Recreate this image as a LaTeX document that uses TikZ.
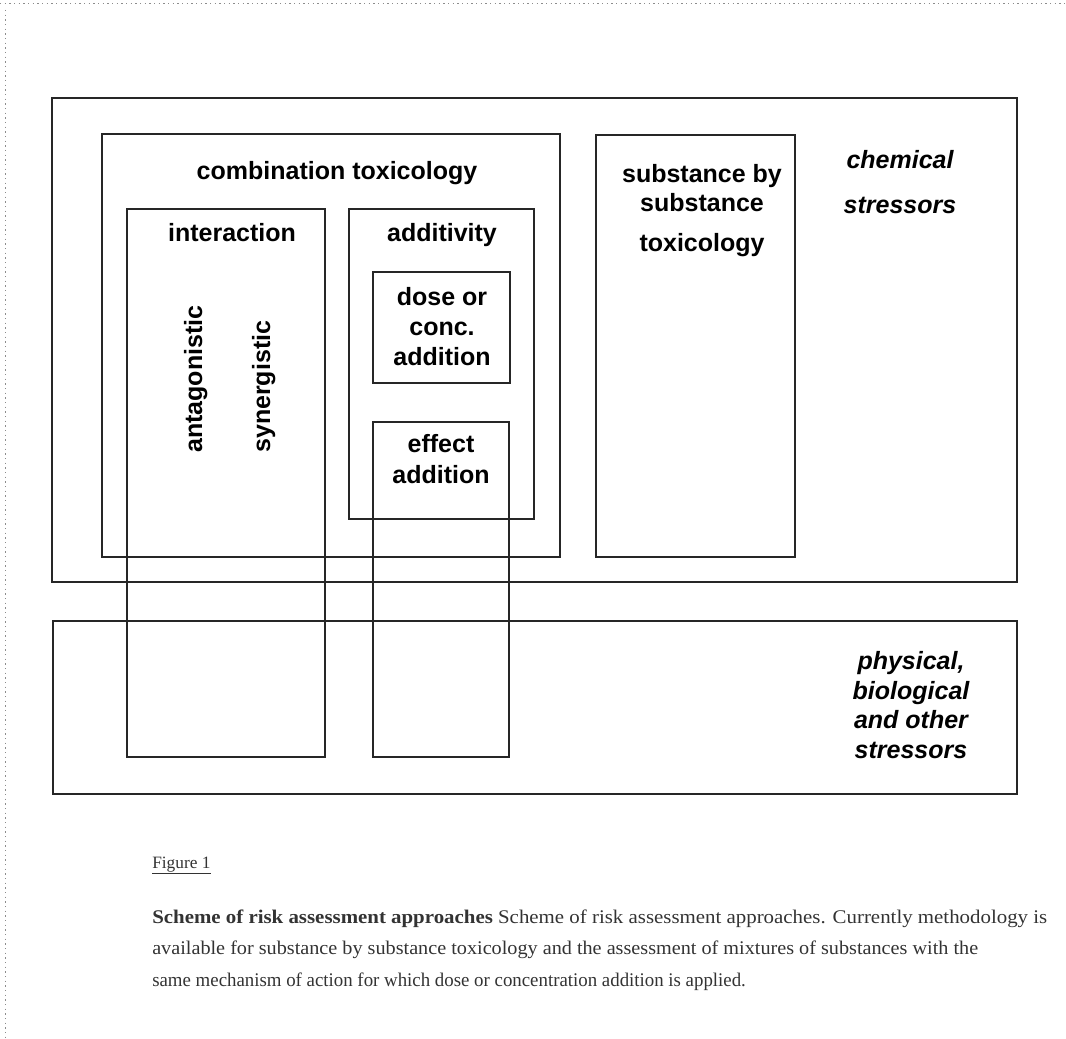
\documentclass[tikz,border=0pt]{standalone}
\usepackage{fontspec}
\setmainfont{Liberation Serif}
\newfontfamily\arial{Liberation Sans}
\begin{document}
\begin{tikzpicture}[x=0.75pt,y=-0.75pt,
  box/.style={draw=black!85,line width=1.5pt},
  lbl/.style={inner sep=0pt,anchor=base,font=\arial\bfseries\fontsize{18.75}{22}\selectfont,text=black},
  ilbl/.style={lbl,font=\arial\bfseries\itshape\fontsize{18.75}{22}\selectfont},
  captxt/.style={inner sep=0pt,anchor=base west,text=black!80,font=\fontsize{14.5}{17}\selectfont},
  pageedge/.style={draw=black!45,line width=0.5pt,dash pattern=on 1pt off 2.5pt}]
\useasboundingbox (0,0) rectangle (1066,1038);
% scanned page edges
\coordinate (tl) at (0,3);
\coordinate (tr) at (1066,3);
\coordinate (lt) at (5,10);
\coordinate (lb) at (5,1038);
\draw[pageedge] (tl) -- (tr);
\draw[pageedge] (lt) -- (lb);
% boxes
\draw[box] (52,98) rectangle (1017,582);
\draw[box] (53,621) rectangle (1017,794);
\draw[box] (102,134) rectangle (560,557);
\draw[box] (127,209) rectangle (325,757);
\draw[box] (349,209) rectangle (534,519);
\draw[box] (373,272) rectangle (510,383);
\draw[box] (373,422) rectangle (509,757);
\draw[box] (596,135) rectangle (795,557);
% labels
\node[lbl] (comb) at (337,180) {combination toxicology};
\node[lbl] (inter) at (232,241) {interaction};
\node[lbl] (addv) at (442,241) {additivity};
\node[lbl,rotate=90,anchor=base west] (antag) at (202,453) {antagonistic};
\node[lbl,rotate=90,anchor=base west] (syn) at (270,453) {synergistic};
\node[lbl] (dose1) at (442,305) {dose or};
\node[lbl] (dose2) at (442,335) {conc.};
\node[lbl] (dose3) at (442,365) {addition};
\node[lbl] (eff1) at (441,452) {effect};
\node[lbl] (eff2) at (441,483) {addition};
\node[lbl] (sub1) at (702,182) {substance by};
\node[lbl] (sub2) at (702,211) {substance};
\node[lbl] (sub3) at (702,251) {toxicology};
\node[ilbl] (chem1) at (900,168) {chemical};
\node[ilbl] (chem2) at (900,213) {stressors};
\node[ilbl] (phys1) at (911,669) {physical,};
\node[ilbl] (phys2) at (911,699) {biological};
\node[ilbl] (phys3) at (911,728) {and other};
\node[ilbl] (phys4) at (911,758) {stressors};
% caption
\node[captxt,font=\fontsize{13}{15}\selectfont] (fig) at (152,868) {\underline{Figure 1}};
\node[captxt] (c1) at (152,923) {\scalebox{1.08}[1]{\textbf{Scheme of risk assessment approaches} Scheme of risk assessment approaches. Currently methodology is}};
\node[captxt] (c2) at (152,954) {\scalebox{1.045}[1]{available for substance by substance toxicology and the assessment of mixtures of substances with the}};
\node[captxt] (c3) at (152,986) {\scalebox{0.975}[1]{same mechanism of action for which dose or concentration addition is applied.}};
\end{tikzpicture}
\end{document}
